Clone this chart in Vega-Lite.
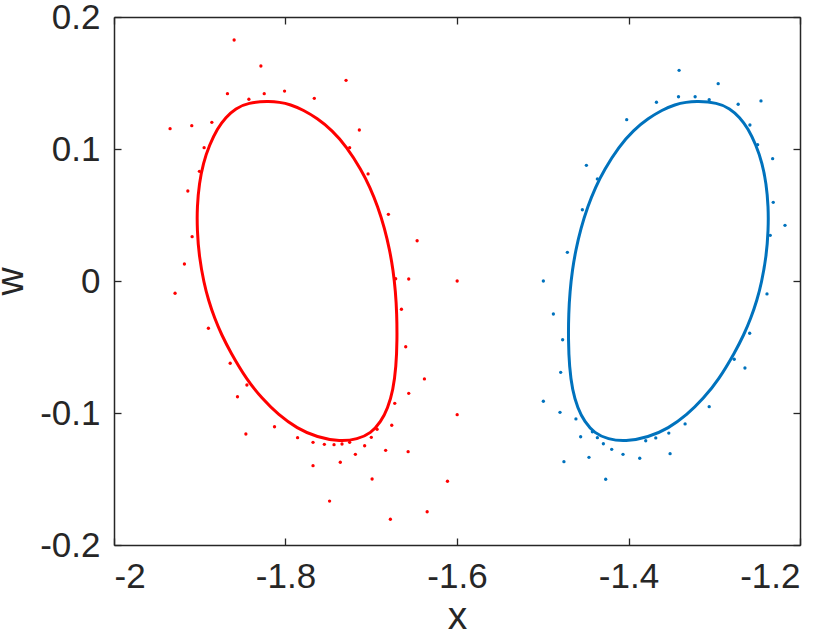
{
  "$schema": "https://vega.github.io/schema/vega-lite/v6.json",
  "width": 686,
  "height": 528,
  "autosize": "none",
  "padding": {"left": 114, "top": 17, "right": 31, "bottom": 86},
  "background": "white",
  "config": {
    "view": {"stroke": null},
    "axis": {
      "grid": false,
      "labelFont": "Liberation Sans",
      "labelFontSize": 35,
      "labelColor": "#262626",
      "titleFont": "Liberation Sans",
      "titleFontSize": 39,
      "titleFontWeight": "normal",
      "titleColor": "#262626",
      "tickSize": -7,
      "tickColor": "#262626",
      "tickWidth": 1.3,
      "domainColor": "#262626",
      "domainWidth": 1.5,
      "labelPadding": 21
    }
  },
  "datasets": {
    "curves": [
      {"s": "r", "i": 1, "x": -1.8200, "w": 0.1362},
      {"s": "r", "i": 2, "x": -1.8070, "w": 0.1355},
      {"s": "r", "i": 3, "x": -1.7945, "w": 0.1338},
      {"s": "r", "i": 4, "x": -1.7789, "w": 0.1295},
      {"s": "r", "i": 5, "x": -1.7633, "w": 0.1233},
      {"s": "r", "i": 6, "x": -1.7458, "w": 0.1144},
      {"s": "r", "i": 7, "x": -1.7287, "w": 0.1017},
      {"s": "r", "i": 8, "x": -1.7115, "w": 0.0841},
      {"s": "r", "i": 9, "x": -1.7017, "w": 0.0714},
      {"s": "r", "i": 10, "x": -1.6923, "w": 0.0563},
      {"s": "r", "i": 11, "x": -1.6844, "w": 0.0399},
      {"s": "r", "i": 12, "x": -1.6785, "w": 0.0235},
      {"s": "r", "i": 13, "x": -1.6745, "w": 0.0083},
      {"s": "r", "i": 14, "x": -1.6717, "w": -0.0080},
      {"s": "r", "i": 15, "x": -1.6702, "w": -0.0245},
      {"s": "r", "i": 16, "x": -1.6698, "w": -0.0447},
      {"s": "r", "i": 17, "x": -1.6710, "w": -0.0649},
      {"s": "r", "i": 18, "x": -1.6745, "w": -0.0826},
      {"s": "r", "i": 19, "x": -1.6807, "w": -0.0964},
      {"s": "r", "i": 20, "x": -1.6887, "w": -0.1066},
      {"s": "r", "i": 21, "x": -1.7004, "w": -0.1154},
      {"s": "r", "i": 22, "x": -1.7160, "w": -0.1199},
      {"s": "r", "i": 23, "x": -1.7361, "w": -0.1217},
      {"s": "r", "i": 24, "x": -1.7633, "w": -0.1184},
      {"s": "r", "i": 25, "x": -1.7866, "w": -0.1116},
      {"s": "r", "i": 26, "x": -1.8081, "w": -0.1015},
      {"s": "r", "i": 27, "x": -1.8275, "w": -0.0889},
      {"s": "r", "i": 28, "x": -1.8450, "w": -0.0750},
      {"s": "r", "i": 29, "x": -1.8645, "w": -0.0536},
      {"s": "r", "i": 30, "x": -1.8744, "w": -0.0409},
      {"s": "r", "i": 31, "x": -1.8827, "w": -0.0283},
      {"s": "r", "i": 32, "x": -1.8899, "w": -0.0144},
      {"s": "r", "i": 33, "x": -1.8951, "w": -0.0015},
      {"s": "r", "i": 34, "x": -1.9007, "w": 0.0184},
      {"s": "r", "i": 35, "x": -1.9031, "w": 0.0386},
      {"s": "r", "i": 36, "x": -1.9031, "w": 0.0563},
      {"s": "r", "i": 37, "x": -1.9006, "w": 0.0740},
      {"s": "r", "i": 38, "x": -1.8960, "w": 0.0892},
      {"s": "r", "i": 39, "x": -1.8888, "w": 0.1030},
      {"s": "r", "i": 40, "x": -1.8793, "w": 0.1157},
      {"s": "r", "i": 41, "x": -1.8698, "w": 0.1240},
      {"s": "r", "i": 42, "x": -1.8582, "w": 0.1308},
      {"s": "r", "i": 43, "x": -1.8436, "w": 0.1351},
      {"s": "b", "i": 1, "x": -1.3200, "w": 0.1362},
      {"s": "b", "i": 2, "x": -1.3330, "w": 0.1355},
      {"s": "b", "i": 3, "x": -1.3455, "w": 0.1338},
      {"s": "b", "i": 4, "x": -1.3611, "w": 0.1295},
      {"s": "b", "i": 5, "x": -1.3767, "w": 0.1233},
      {"s": "b", "i": 6, "x": -1.3942, "w": 0.1144},
      {"s": "b", "i": 7, "x": -1.4113, "w": 0.1017},
      {"s": "b", "i": 8, "x": -1.4285, "w": 0.0841},
      {"s": "b", "i": 9, "x": -1.4383, "w": 0.0714},
      {"s": "b", "i": 10, "x": -1.4477, "w": 0.0563},
      {"s": "b", "i": 11, "x": -1.4556, "w": 0.0399},
      {"s": "b", "i": 12, "x": -1.4615, "w": 0.0235},
      {"s": "b", "i": 13, "x": -1.4655, "w": 0.0083},
      {"s": "b", "i": 14, "x": -1.4683, "w": -0.0080},
      {"s": "b", "i": 15, "x": -1.4698, "w": -0.0245},
      {"s": "b", "i": 16, "x": -1.4702, "w": -0.0447},
      {"s": "b", "i": 17, "x": -1.4690, "w": -0.0649},
      {"s": "b", "i": 18, "x": -1.4655, "w": -0.0826},
      {"s": "b", "i": 19, "x": -1.4593, "w": -0.0964},
      {"s": "b", "i": 20, "x": -1.4513, "w": -0.1066},
      {"s": "b", "i": 21, "x": -1.4396, "w": -0.1154},
      {"s": "b", "i": 22, "x": -1.4240, "w": -0.1199},
      {"s": "b", "i": 23, "x": -1.4039, "w": -0.1217},
      {"s": "b", "i": 24, "x": -1.3767, "w": -0.1184},
      {"s": "b", "i": 25, "x": -1.3534, "w": -0.1116},
      {"s": "b", "i": 26, "x": -1.3319, "w": -0.1015},
      {"s": "b", "i": 27, "x": -1.3125, "w": -0.0889},
      {"s": "b", "i": 28, "x": -1.2950, "w": -0.0750},
      {"s": "b", "i": 29, "x": -1.2755, "w": -0.0536},
      {"s": "b", "i": 30, "x": -1.2656, "w": -0.0409},
      {"s": "b", "i": 31, "x": -1.2573, "w": -0.0283},
      {"s": "b", "i": 32, "x": -1.2501, "w": -0.0144},
      {"s": "b", "i": 33, "x": -1.2449, "w": -0.0015},
      {"s": "b", "i": 34, "x": -1.2393, "w": 0.0184},
      {"s": "b", "i": 35, "x": -1.2369, "w": 0.0386},
      {"s": "b", "i": 36, "x": -1.2369, "w": 0.0563},
      {"s": "b", "i": 37, "x": -1.2394, "w": 0.0740},
      {"s": "b", "i": 38, "x": -1.2440, "w": 0.0892},
      {"s": "b", "i": 39, "x": -1.2512, "w": 0.1030},
      {"s": "b", "i": 40, "x": -1.2607, "w": 0.1157},
      {"s": "b", "i": 41, "x": -1.2702, "w": 0.1240},
      {"s": "b", "i": 42, "x": -1.2818, "w": 0.1308},
      {"s": "b", "i": 43, "x": -1.2964, "w": 0.1351}
    ],
    "dots": [
      {"s": "r", "x": -1.8599, "w": 0.1826},
      {"s": "r", "x": -1.8287, "w": 0.1629},
      {"s": "r", "x": -1.7294, "w": 0.1520},
      {"s": "r", "x": -1.8677, "w": 0.1419},
      {"s": "r", "x": -1.8248, "w": 0.1419},
      {"s": "r", "x": -1.8011, "w": 0.1439},
      {"s": "r", "x": -1.8427, "w": 0.1377},
      {"s": "r", "x": -1.7664, "w": 0.1384},
      {"s": "r", "x": -1.9346, "w": 0.1154},
      {"s": "r", "x": -1.9093, "w": 0.1177},
      {"s": "r", "x": -1.8859, "w": 0.1202},
      {"s": "r", "x": -1.7139, "w": 0.1144},
      {"s": "r", "x": -1.7252, "w": 0.1010},
      {"s": "r", "x": -1.8949, "w": 0.1010},
      {"s": "r", "x": -1.7037, "w": 0.0811},
      {"s": "r", "x": -1.9004, "w": 0.0831},
      {"s": "r", "x": -1.9139, "w": 0.0682},
      {"s": "r", "x": -1.6800, "w": 0.0505},
      {"s": "r", "x": -1.6465, "w": 0.0305},
      {"s": "r", "x": -1.9089, "w": 0.0336},
      {"s": "r", "x": -1.9179, "w": 0.0129},
      {"s": "r", "x": -1.6715, "w": 0.0017},
      {"s": "r", "x": -1.6563, "w": 0.0015},
      {"s": "r", "x": -1.9288, "w": -0.0093},
      {"s": "r", "x": -1.8899, "w": -0.0358},
      {"s": "r", "x": -1.8645, "w": -0.0623},
      {"s": "r", "x": -1.8450, "w": -0.0788},
      {"s": "r", "x": -1.8560, "w": -0.0877},
      {"s": "r", "x": -1.8128, "w": -0.1104},
      {"s": "r", "x": -1.8462, "w": -0.1159},
      {"s": "r", "x": -1.7859, "w": -0.1187},
      {"s": "r", "x": -1.7679, "w": -0.1222},
      {"s": "r", "x": -1.7547, "w": -0.1237},
      {"s": "r", "x": -1.7434, "w": -0.1240},
      {"s": "r", "x": -1.7341, "w": -0.1235},
      {"s": "r", "x": -1.7252, "w": -0.1222},
      {"s": "r", "x": -1.7185, "w": -0.1313},
      {"s": "r", "x": -1.7077, "w": -0.1248},
      {"s": "r", "x": -1.6999, "w": -0.1184},
      {"s": "r", "x": -1.6932, "w": -0.1123},
      {"s": "r", "x": -1.6761, "w": -0.1093},
      {"s": "r", "x": -1.6726, "w": -0.0927},
      {"s": "r", "x": -1.6832, "w": -0.1283},
      {"s": "r", "x": -1.6570, "w": -0.1293},
      {"s": "r", "x": -1.7679, "w": -0.1399},
      {"s": "r", "x": -1.7361, "w": -0.1373},
      {"s": "r", "x": -1.6990, "w": -0.1500},
      {"s": "r", "x": -1.7486, "w": -0.1667},
      {"s": "r", "x": -1.6777, "w": -0.1805},
      {"s": "r", "x": -1.6348, "w": -0.1748},
      {"s": "r", "x": -1.6111, "w": -0.1517},
      {"s": "r", "x": -1.5998, "w": -0.1013},
      {"s": "r", "x": -1.5998, "w": 0.0000},
      {"s": "r", "x": -1.6648, "w": -0.0214},
      {"s": "r", "x": -1.6598, "w": -0.0498},
      {"s": "r", "x": -1.6380, "w": -0.0742},
      {"s": "r", "x": -1.6563, "w": -0.0851},
      {"s": "b", "x": -1.3410, "w": 0.1596},
      {"s": "b", "x": -1.2954, "w": 0.1495},
      {"s": "b", "x": -1.3417, "w": 0.1396},
      {"s": "b", "x": -1.3223, "w": 0.1396},
      {"s": "b", "x": -1.3059, "w": 0.1373},
      {"s": "b", "x": -1.2721, "w": 0.1339},
      {"s": "b", "x": -1.2455, "w": 0.1364},
      {"s": "b", "x": -1.3674, "w": 0.1354},
      {"s": "b", "x": -1.4021, "w": 0.1222},
      {"s": "b", "x": -1.2584, "w": 0.1182},
      {"s": "b", "x": -1.2494, "w": 0.1033},
      {"s": "b", "x": -1.2319, "w": 0.0927},
      {"s": "b", "x": -1.4491, "w": 0.0876},
      {"s": "b", "x": -1.4363, "w": 0.0773},
      {"s": "b", "x": -1.4538, "w": 0.0540},
      {"s": "b", "x": -1.2312, "w": 0.0596},
      {"s": "b", "x": -1.2175, "w": 0.0422},
      {"s": "b", "x": -1.2347, "w": 0.0346},
      {"s": "b", "x": -1.4713, "w": 0.0217},
      {"s": "b", "x": -1.4993, "w": 0.0000},
      {"s": "b", "x": -1.4876, "w": -0.0250},
      {"s": "b", "x": -1.4768, "w": -0.0445},
      {"s": "b", "x": -1.4791, "w": -0.0692},
      {"s": "b", "x": -1.4993, "w": -0.0911},
      {"s": "b", "x": -1.4799, "w": -0.0995},
      {"s": "b", "x": -1.4613, "w": -0.1045},
      {"s": "b", "x": -1.4558, "w": -0.1180},
      {"s": "b", "x": -1.4421, "w": -0.1142},
      {"s": "b", "x": -1.4363, "w": -0.1187},
      {"s": "b", "x": -1.4293, "w": -0.1233},
      {"s": "b", "x": -1.4196, "w": -0.1275},
      {"s": "b", "x": -1.4064, "w": -0.1313},
      {"s": "b", "x": -1.3869, "w": -0.1343},
      {"s": "b", "x": -1.4753, "w": -0.1369},
      {"s": "b", "x": -1.4461, "w": -0.1336},
      {"s": "b", "x": -1.4266, "w": -0.1502},
      {"s": "b", "x": -1.3799, "w": -0.1210},
      {"s": "b", "x": -1.3682, "w": -0.1189},
      {"s": "b", "x": -1.3530, "w": -0.1152},
      {"s": "b", "x": -1.3515, "w": -0.1308},
      {"s": "b", "x": -1.3340, "w": -0.1083},
      {"s": "b", "x": -1.3059, "w": -0.0952},
      {"s": "b", "x": -1.2767, "w": -0.0593},
      {"s": "b", "x": -1.2642, "w": -0.0659},
      {"s": "b", "x": -1.2587, "w": -0.0396},
      {"s": "b", "x": -1.2385, "w": -0.0098}
    ]
  },
  "layer": [
    {
      "data": {"name": "curves"},
      "mark": {"type": "line", "interpolate": "basis-closed", "strokeWidth": 3},
      "encoding": {
        "x": {
          "field": "x", "type": "quantitative",
          "scale": {"domain": [-2, -1.2], "nice": false, "zero": false},
          "axis": {"orient": "bottom", "title": "x", "values": [-2, -1.8, -1.6, -1.4, -1.2], "labelExpr": "toString(datum.value)", "titlePadding": 3}
        },
        "y": {
          "field": "w", "type": "quantitative",
          "scale": {"domain": [-0.2, 0.2], "nice": false, "zero": false},
          "axis": {"orient": "left", "title": "w", "values": [-0.2, -0.1, 0, 0.1, 0.2], "labelExpr": "toString(datum.value)", "titlePadding": 9}
        },
        "color": {"field": "s", "type": "nominal", "scale": {"domain": ["r", "b"], "range": ["#ff0000", "#0072bd"]}, "legend": null},
        "order": {"field": "i", "type": "quantitative"}
      }
    },
    {
      "data": {"name": "dots"},
      "mark": {"type": "circle", "size": 11, "opacity": 1},
      "encoding": {
        "x": {
          "field": "x", "type": "quantitative",
          "axis": {"orient": "top", "title": null, "labels": false, "values": [-2, -1.8, -1.6, -1.4, -1.2]}
        },
        "y": {
          "field": "w", "type": "quantitative",
          "axis": {"orient": "right", "title": null, "labels": false, "values": [-0.2, -0.1, 0, 0.1, 0.2]}
        },
        "color": {"field": "s", "type": "nominal", "legend": null}
      }
    }
  ],
  "resolve": {"axis": {"x": "independent", "y": "independent"}}
}
